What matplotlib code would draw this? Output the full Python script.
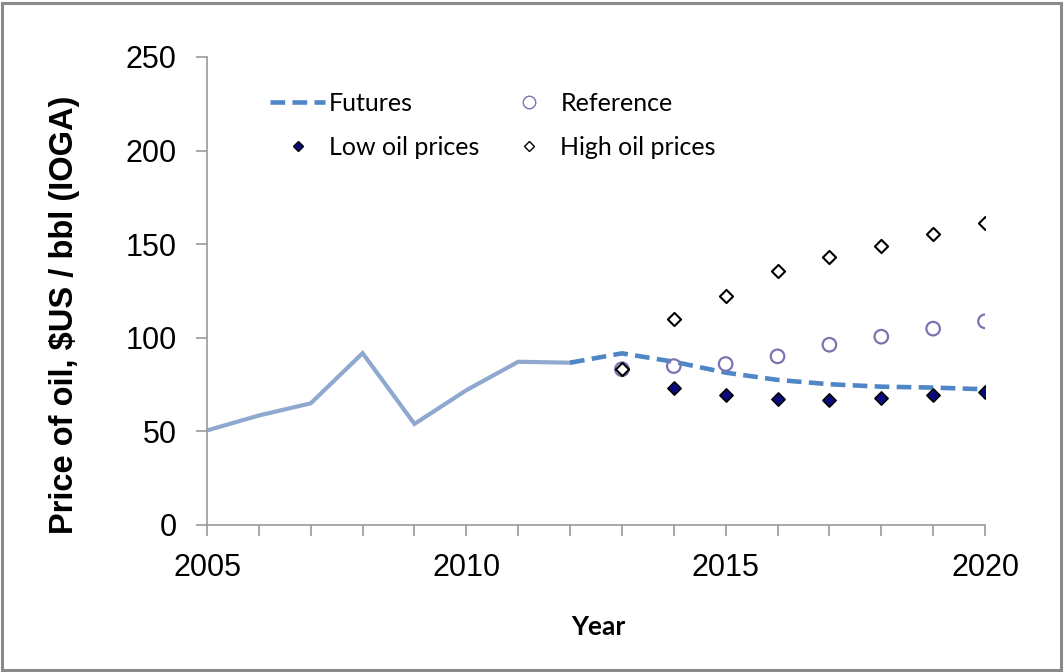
import matplotlib
matplotlib.use("Agg")
import matplotlib.pyplot as plt
from matplotlib.patches import Rectangle
from matplotlib.lines import Line2D

hist_years = [2005, 2006, 2007, 2008, 2009, 2010, 2011, 2012]
hist_price = [50.5, 58.5, 65, 91.8, 54, 72, 87.2, 86.7]

fut_years = [2012, 2013, 2014, 2015, 2016, 2017, 2018, 2019, 2020]
fut_price = [86.7, 91.7, 87.2, 81.4, 77.5, 75.2, 73.9, 73.4, 72.5]

ref_years = [2013, 2014, 2015, 2016, 2017, 2018, 2019, 2020]
ref_price = [83.2, 84.9, 86.0, 90.1, 96.3, 100.6, 104.9, 108.8]

low_years = [2014, 2015, 2016, 2017, 2018, 2019, 2020]
low_price = [73.0, 69.4, 67.1, 66.8, 67.7, 69.4, 70.9]

high_years = [2013, 2014, 2015, 2016, 2017, 2018, 2019, 2020]
high_price = [83.5, 109.9, 122.5, 135.7, 143.3, 149.2, 155.4, 161.2]

y_ticks = [0, 50, 100, 150, 200, 250]
x_major = [2005, 2010, 2015, 2020]

W, H = 1064, 672
fig = plt.figure(figsize=(W / 100, H / 100), dpi=100)
ax = fig.add_axes([207 / W, 1 - 525 / H, (985 - 207) / W, (525 - 57) / H])

ax.plot(hist_years, hist_price, color="#8EA8CF", lw=3.0, solid_joinstyle="miter", zorder=2)
ax.plot(fut_years, fut_price, color="#4F86C6", lw=3.3, ls=(0, (3.2, 1.6)), zorder=3)
ax.scatter(ref_years, ref_price, s=95, facecolors="none", edgecolors="#7A74B2", linewidths=1.6, zorder=4)
ax.scatter(low_years, low_price, s=45, marker="D", facecolors="#0A0A80", edgecolors="black", linewidths=1.2, zorder=5)
ax.scatter(high_years, high_price, s=45, marker="D", facecolors="white", edgecolors="black", linewidths=1.5, zorder=5)

ax.set_xlim(2005, 2020)
ax.set_ylim(0, 250)
ax.set_yticks(y_ticks)
ax.set_xticks(x_major)
ax.set_xticks(range(2005, 2021), minor=True)
ax.tick_params(axis="x", which="both", direction="out", length=8, color="#999999", width=1.2, pad=12)
ax.tick_params(axis="y", direction="out", length=8, color="#999999", width=1.2, pad=14)
for lab in ax.get_xticklabels() + ax.get_yticklabels():
    lab.set_fontfamily("Liberation Sans")
    lab.set_fontsize(22)
for side in ["top", "right"]:
    ax.spines[side].set_visible(False)
for side in ["left", "bottom"]:
    ax.spines[side].set_color("#999999")
    ax.spines[side].set_linewidth(1.2)

fig.text(65 / W, 1 - 315 / H, "Price of oil, $US / bbl (IOGA)", rotation=90,
         ha="center", va="center", fontsize=23.5, fontweight="bold", family="Liberation Sans")
fig.text(598 / W, 1 - 627 / H, "Year", ha="center", va="center",
         fontsize=19, fontweight="bold", family="Lato")

handles = [
    Line2D([], [], color="#4F86C6", lw=3.3, ls=(0, (3.2, 1.6))),
    Line2D([], [], marker="D", ls="none", markersize=5, markerfacecolor="#0A0A80", markeredgecolor="black"),
    Line2D([], [], marker="o", ls="none", markersize=9, markerfacecolor="none", markeredgecolor="#7A74B2", markeredgewidth=1.0),
    Line2D([], [], marker="D", ls="none", markersize=5, markerfacecolor="white", markeredgecolor="black"),
]
labels = ["Futures", "Low oil prices", "Reference", "High oil prices"]
leg = ax.legend(handles, labels, ncol=2, frameon=False, loc="upper left",
                bbox_to_anchor=((270 - 207) / 778, 1 - (92 - 57) / 468),
                prop={"family": "Lato", "size": 18}, borderpad=0, borderaxespad=0,
                handlelength=2.2, handletextpad=0.15, columnspacing=0.9, labelspacing=0.83)

fig.add_artist(Rectangle((2 / W, 2 / H), (W - 5) / W, (H - 5) / H, transform=fig.transFigure,
                         fill=False, edgecolor="#8A8A8A", lw=2.2))

fig.savefig("out.png", dpi=100, facecolor="white")
